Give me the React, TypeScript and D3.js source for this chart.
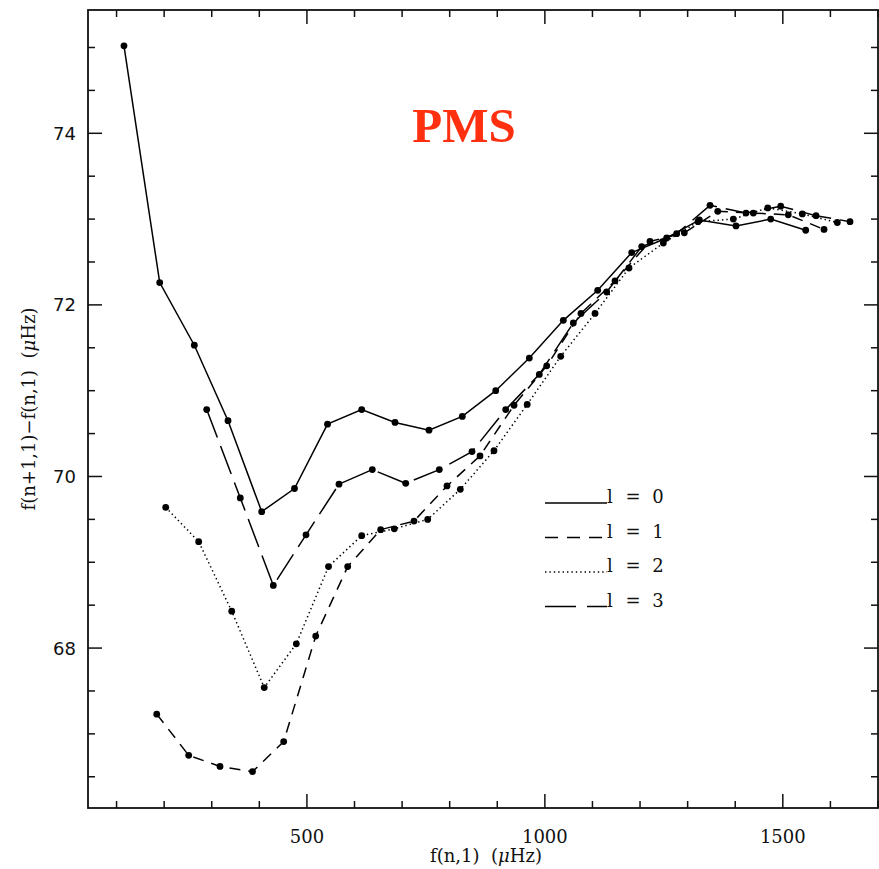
import React from "react";
import * as d3 from "d3";

const freqL0 = [115.6, 190.7, 263.4, 334.2, 405, 473.9, 543.3, 615.1, 685.1, 756.5, 826.5, 896.7, 967.3, 1038.8, 1111.0, 1182.5, 1256, 1324.5, 1401.6, 1474.6, 1548.1];
const dnuL0 = [75.02, 72.26, 71.53, 70.65, 69.59, 69.86, 70.61, 70.78, 70.63, 70.54, 70.70, 71.00, 71.38, 71.82, 72.17, 72.61, 72.78, 72.99, 72.92, 73.00, 72.87];

const freqL1 = [184.4, 251.6, 317.4, 385.7, 451.2, 518.5, 585.7, 655, 725, 794.4, 863.7, 935.2, 1003.9, 1075.9, 1147.4, 1220.9, 1293, 1363.2, 1438, 1511.5, 1586.6];
const dnuL1 = [67.23, 66.75, 66.62, 66.56, 66.91, 68.14, 68.95, 69.38, 69.48, 69.89, 70.24, 70.83, 71.29, 71.90, 72.28, 72.74, 72.84, 73.09, 73.07, 73.05, 72.88];

const freqL2 = [203.3, 272.6, 342, 410.3, 477.7, 545.4, 615.1, 683.6, 753.8, 822.3, 893.1, 962.9, 1033.3, 1105.4, 1176.8, 1248.9, 1321.8, 1396, 1468.3, 1541, 1614.5];
const dnuL2 = [69.64, 69.24, 68.43, 67.54, 68.05, 68.95, 69.31, 69.39, 69.50, 69.85, 70.30, 70.84, 71.40, 71.90, 72.43, 72.72, 72.97, 73.00, 73.13, 73.06, 72.96];

const freqL3 = [289.4, 360.0, 429.4, 498.1, 567.4, 637.4, 707.6, 778.2, 846.9, 917.7, 988.3, 1059.8, 1129.9, 1203.5, 1277, 1347, 1422.7, 1495.6, 1569.8, 1641.2];
const dnuL3 = [70.78, 69.75, 68.73, 69.32, 69.91, 70.08, 69.92, 70.08, 70.29, 70.78, 71.19, 71.79, 72.15, 72.68, 72.83, 73.16, 73.07, 73.15, 73.04, 72.97];

const seriesDegrees = ["0", "1", "2", "3"];
const xMajorTicks = [500, 1000, 1500];
const yMajorTicks = [68, 70, 72, 74];

const W = 879;
const H = 869;
const M = { left: 88, right: 878, top: 10, bottom: 808 };

export default function App() {
  const x = d3.scaleLinear().domain([40, 1700]).range([M.left, M.right]);
  const y = d3.scaleLinear().domain([66.136, 75.437]).range([M.bottom, M.top]);

  const series = [
    { f: freqL0, d: dnuL0, dash: "none" },
    { f: freqL1, d: dnuL1, dash: "11,8" },
    { f: freqL2, d: dnuL2, dash: "1.4,3" },
    { f: freqL3, d: dnuL3, dash: "30,9" },
  ];
  const legendDash = ["none", "13,9", "1.4,3", "31,11"];

  const line = d3
    .line<[number, number]>()
    .x((p) => x(p[0]))
    .y((p) => y(p[1]));

  const xMinor = d3.range(100, 1701, 100).filter((v) => !xMajorTicks.includes(v));
  const yMinor = d3.range(66.5, 75.01, 0.5).filter((v) => !yMajorTicks.includes(v));

  const tickColor = "#111";
  const sw = 1.5;
  const serif = "'DejaVu Serif', serif";

  return (
    <svg
      width={W}
      height={H}
      style={{ position: "absolute", left: 0, top: 0, background: "#fff" }}
    >
      <rect
        x={M.left}
        y={M.top}
        width={M.right - M.left}
        height={M.bottom - M.top}
        fill="none"
        stroke={tickColor}
        strokeWidth={1.8}
      />
      {xMajorTicks.map((v) => (
        <g key={"xM" + v}>
          <line x1={x(v)} x2={x(v)} y1={M.bottom} y2={M.bottom - 14} stroke={tickColor} strokeWidth={sw} />
          <line x1={x(v)} x2={x(v)} y1={M.top} y2={M.top + 14} stroke={tickColor} strokeWidth={sw} />
          <text x={x(v)} y={843} textAnchor="middle" fontFamily={serif} fontSize={18} fill="#111">
            {v}
          </text>
        </g>
      ))}
      {xMinor.map((v) => (
        <g key={"xm" + v}>
          <line x1={x(v)} x2={x(v)} y1={M.bottom} y2={M.bottom - 7} stroke={tickColor} strokeWidth={sw} />
          <line x1={x(v)} x2={x(v)} y1={M.top} y2={M.top + 7} stroke={tickColor} strokeWidth={sw} />
        </g>
      ))}
      {yMajorTicks.map((v) => (
        <g key={"yM" + v}>
          <line x1={M.left} x2={M.left + 14} y1={y(v)} y2={y(v)} stroke={tickColor} strokeWidth={sw} />
          <line x1={M.right} x2={M.right - 14} y1={y(v)} y2={y(v)} stroke={tickColor} strokeWidth={sw} />
          <text x={76} y={y(v) + 6.5} textAnchor="end" fontFamily="'DejaVu Sans', sans-serif" fontSize={18} fill="#111">
            {v}
          </text>
        </g>
      ))}
      {yMinor.map((v) => (
        <g key={"ym" + v}>
          <line x1={M.left} x2={M.left + 7} y1={y(v)} y2={y(v)} stroke={tickColor} strokeWidth={sw} />
          <line x1={M.right} x2={M.right - 7} y1={y(v)} y2={y(v)} stroke={tickColor} strokeWidth={sw} />
        </g>
      ))}
      <text
        x={486}
        y={862}
        textAnchor="middle"
        fontFamily={serif}
        fontSize={18}
        fill="#111"
        style={{ whiteSpace: "pre" }}
      >
        {"f(n,1)  ("}
        <tspan fontStyle="italic">μ</tspan>
        {"Hz)"}
      </text>
      <text
        transform={`translate(35, 409) rotate(-90)`}
        textAnchor="middle"
        fontFamily={serif}
        fontSize={18}
        fill="#111"
        style={{ whiteSpace: "pre" }}
      >
        {"f(n+1,1)−f(n,1)  ("}
        <tspan fontStyle="italic">μ</tspan>
        {"Hz)"}
      </text>
      <text
        x={464}
        y={142}
        textAnchor="middle"
        fontFamily="'Liberation Serif', serif"
        fontWeight="bold"
        fontSize={49}
        fill="#ff3010"
      >
        PMS
      </text>
      {series.map((s, i) => {
        const pts: [number, number][] = s.f.map((f, j) => [f, s.d[j]]);
        return (
          <g key={"s" + i}>
            <path d={line(pts) || ""} fill="none" stroke="#000" strokeWidth={1.5} strokeDasharray={s.dash} />
            {pts.map((p, j) => (
              <circle key={j} cx={x(p[0])} cy={y(p[1])} r={3.4} fill="#000" />
            ))}
          </g>
        );
      })}
      {seriesDegrees.map((deg, i) => {
        const ly = 503 + i * 34.5;
        return (
          <g key={"lg" + i} fontFamily={serif} fontSize={18} fill="#111">
            <line x1={545} x2={607} y1={ly} y2={ly} stroke="#000" strokeWidth={1.5} strokeDasharray={legendDash[i]} />
            <text x={607} y={ly}>l</text>
            <text x={633} y={ly} textAnchor="middle">=</text>
            <text x={658} y={ly} textAnchor="middle">{deg}</text>
          </g>
        );
      })}
    </svg>
  );
}
